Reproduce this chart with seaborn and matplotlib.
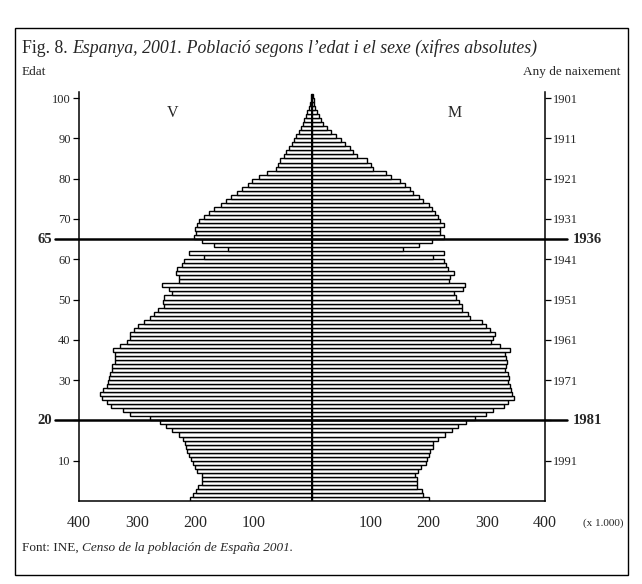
import seaborn as sns
import matplotlib.pyplot as plt
import matplotlib.patches as mpatches
import pandas as pd
import numpy as np

# Spain 2001 census, population by single year of age (thousands)
ages = list(range(0, 101))
males = [210, 204, 200, 195, 189, 188, 189, 197, 201, 205,
         208, 212, 215, 217, 218, 222, 229, 241, 250, 261,
         278, 312, 324, 345, 352, 361, 364, 358, 352, 351,
         348, 346, 344, 344, 339, 338, 339, 341, 330, 318,
         312, 313, 306, 298, 289, 278, 271, 265, 254, 255,
         254, 240, 246, 257, 229, 229, 234, 231, 223, 219,
         185, 211, 144, 168, 189, 203, 200, 201, 198, 194,
         185, 177, 168, 156, 148, 139, 129, 120, 110, 103,
         91, 78, 62, 59, 55, 48, 44, 39, 35, 31,
         28, 23, 19, 16, 13, 10, 8, 6, 3.5, 2.5,
         2]
females = [200, 191, 188, 180, 180, 180, 177, 182, 187, 196,
           197, 200, 202, 207, 208, 217, 228, 240, 251, 264,
           280, 298, 310, 329, 337, 347, 344, 341, 340, 337,
           338, 337, 331, 333, 335, 333, 331, 340, 322, 308,
           310, 314, 305, 298, 291, 272, 268, 258, 257, 253,
           247, 244, 259, 262, 235, 237, 243, 234, 230, 227,
           208, 226, 157, 183, 206, 227, 219, 220, 226, 219,
           216, 212, 206, 200, 191, 183, 174, 168, 160, 151,
           135, 127, 104, 101, 94, 78, 71, 65, 56, 49,
           41, 33, 25, 19, 15, 12, 8, 6, 4, 3,
           2]
x_ticks = [-400, -300, -200, -100, 0, 100, 200, 300, 400]
x_labels = ['400', '300', '200', '100', '', '100', '200', '300', '400']
age_ticks = [10, 20, 30, 40, 50, 60, 70, 80, 90, 100]
census_year = 2001
key_ages = [65, 20]

df = pd.DataFrame({'age': ages, 'V': males, 'M': females})
df['mid'] = df['age'] + 0.5
df['V_neg'] = -df['V']

sns.set_style('white')
plt.rcParams['font.family'] = ['Liberation Serif', 'DejaVu Serif']

W, H = 642, 584
fig = plt.figure(figsize=(W / 100, H / 100), dpi=100)
ax = fig.add_axes([79 / W, 1 - 501 / H, (545 - 79) / W, (501 - 92) / H])

sns.barplot(data=df, x='V_neg', y='mid', orient='y', native_scale=True,
            width=1, color='white', edgecolor='black', linewidth=1.0,
            errorbar=None, ax=ax)
sns.barplot(data=df, x='M', y='mid', orient='y', native_scale=True,
            width=1, color='white', edgecolor='black', linewidth=1.0,
            errorbar=None, ax=ax)
for p in ax.patches:
    p.set_facecolor('white')
    p.set_alpha(1)

ax.vlines(0, 0, 101, color='black', lw=1.4)
ax.set_xlim(-400, 400)
ax.set_ylim(0, 101.5)
ax.set_xlabel('')
ax.set_ylabel('')
ax.set_xticks(x_ticks)
ax.set_xticklabels(x_labels, fontsize=11.5)
ax.set_yticks(age_ticks)
# the key ages get their own bold labels
ax.set_yticklabels(['' if a in key_ages else str(a) for a in age_ticks],
                   fontsize=9)
ax.tick_params(axis='both', direction='out', length=4, width=0.9, color='black')
ax.tick_params(axis='y', pad=2)
ax.tick_params(axis='x', pad=6)
for s in ['left', 'bottom']:
    ax.spines[s].set_color('black')
    ax.spines[s].set_linewidth(1.1)
ax.spines['top'].set_visible(False)
ax.spines['right'].set_visible(False)

ax2 = ax.twinx()
ax2.set_ylim(0, 101.5)
ax2.set_yticks(age_ticks)
ax2.set_yticklabels(['' if a in key_ages else str(census_year - a)
                     for a in age_ticks], fontsize=9)
ax2.tick_params(axis='y', direction='out', length=4, width=0.9, pad=2, color='black')
for s in ['left', 'top', 'bottom']:
    ax2.spines[s].set_visible(False)
ax2.spines['right'].set_color('black')
ax2.spines['right'].set_linewidth(1.1)

for a in key_ages:
    ax.plot([-441, 437], [a, a], color='black', lw=1.8, clip_on=False, zorder=5)
    ax.text(-446, a, str(a), ha='right', va='center', fontsize=10.5,
            fontweight='bold')
    ax.text(448, a, str(census_year - a), ha='left', va='center', fontsize=10.5,
            fontweight='bold')

ax.text(-240, 96.3, 'V', ha='center', va='center', fontsize=11.5)
ax.text(245, 96.3, 'M', ha='center', va='center', fontsize=11.5)

# texts around the chart
r = fig.canvas.get_renderer()
t = fig.text(22 / W, 1 - 53 / H, 'Fig. 8. ', fontsize=12.8, va='baseline')
x1 = t.get_window_extent(renderer=r).x1 / W
fig.text(x1, 1 - 53 / H,
         'Espanya, 2001. Població segons l’edat i el sexe (xifres absolutes)',
         fontsize=12.8, style='italic', va='baseline')
fig.text(22 / W, 1 - 75 / H, 'Edat', fontsize=9.5, va='baseline')
fig.text(620 / W, 1 - 75 / H, 'Any de naixement', fontsize=9.5, va='baseline',
         ha='right')
fig.text(583 / W, 1 - 526 / H, '(x 1.000)', fontsize=8, va='baseline')
t = fig.text(22 / W, 1 - 551 / H, 'Font: INE, ', fontsize=9.5, va='baseline')
x1 = t.get_window_extent(renderer=r).x1 / W
fig.text(x1, 1 - 551 / H, 'Censo de la población de España 2001.',
         fontsize=9.5, style='italic', va='baseline')

fig.add_artist(mpatches.Rectangle((15 / W, 1 - 575 / H), (628 - 15) / W,
                                  (575 - 28) / H, transform=fig.transFigure,
                                  fill=False, edgecolor='black', lw=1))

fig.savefig('out.png', dpi=100, facecolor='white')
